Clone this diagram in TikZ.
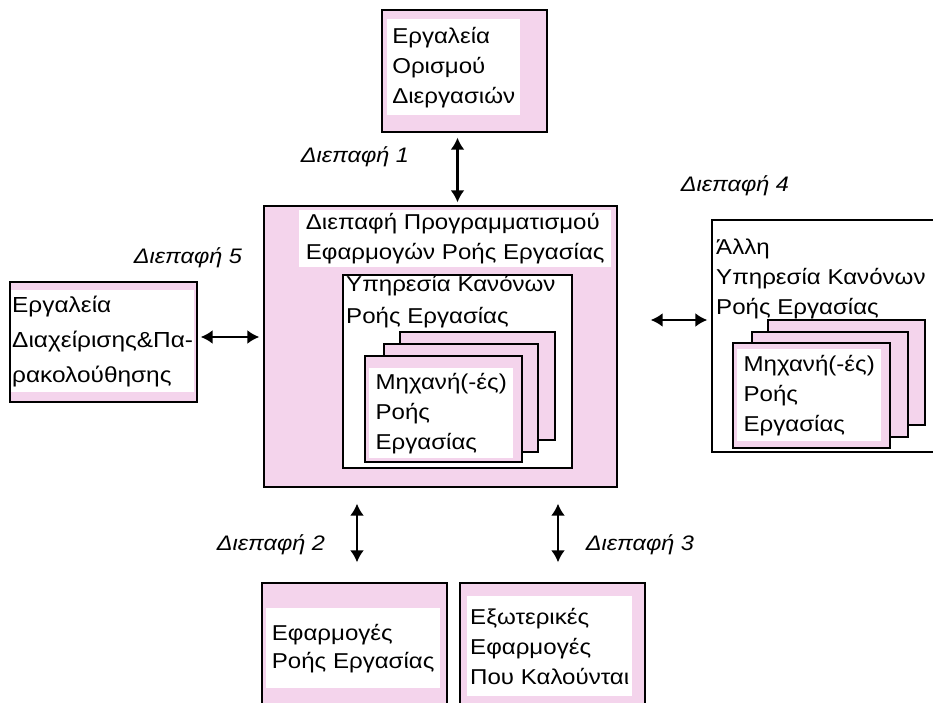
\documentclass[tikz,border=0pt]{standalone}
\usepackage{fontspec}
\setmainfont[FakeStretch=1.12]{Liberation Sans}
\usepackage{xcolor}
\usepackage{tikz}
\usetikzlibrary{arrows.meta, positioning, calc}
\definecolor{framepink}{RGB}{244,212,236}

\begin{document}
\begin{tikzpicture}[
  x=1pt, y=-1pt,
  font=\fontsize{21.5}{30}\selectfont,
  frame/.style={rectangle, draw, line width=1.4pt, fill=framepink, inner sep=0pt},
  plain/.style={rectangle, draw, line width=1.4pt, fill=white, inner sep=0pt},
  txt/.style={fill=white, anchor=north west, align=left, inner sep=3pt},
  ifc/.style={font=\fontsize{21}{24}\itshape},
  arrow/.style={{Latex[length=12pt,width=14pt]}-{Latex[length=12pt,width=14pt]}, line width=2.2pt}
]
\useasboundingbox (0,0) rectangle (933,703);
\clip (0,0) rectangle (933,703);
% top: process definition tools
\node[frame, minimum width=165, minimum height=122] (defbox) at (464.5,71) {};
\node[txt, minimum width=133, minimum height=96] (deftext) at (387,19) {Εργαλεία\\Ορισμού\\Διεργασιών};
% central engine box
\node[frame, minimum width=353, minimum height=281] (mainbox) at (440.5,346.5) {};
\node[txt, minimum width=312] (maintext) at (299,210) {Διεπαφή Προγραμματισμού\\Εφαρμογών Ροής Εργασίας};
\node[plain, minimum width=229, minimum height=193] (rulebox) at (457.5,371.5) {};
\node[txt, fill=none, font=\fontsize{21.5}{32}\selectfont] (ruletext) at (343,272) {Υπηρεσία Κανόνων\\Ροής Εργασίας};
\node[frame, minimum width=155, minimum height=108] (cardC) at (477.5,386) {};
\node[frame, minimum width=154, minimum height=108] (cardB) at (461,398) {};
\node[frame, minimum width=157, minimum height=106] (cardA) at (443.5,409) {};
\node[txt, minimum width=144, minimum height=90] (cardtext) at (369,368) {Μηχανή(-ές)\\Ροής\\Εργασίας};
% left: administration and monitoring tools
\node[frame, minimum width=187, minimum height=120] (mgmtbox) at (103.5,342) {};
\node[txt, inner xsep=1pt, minimum width=182, minimum height=102, font=\fontsize{21.8}{35}\selectfont] (mgmttext) at (11,290) {Εργαλεία\\Διαχείρισης\&Πα-\\ρακολούθησης};
% right: other workflow enactment service
\node[plain, minimum width=250, minimum height=232] (otherbox) at (837,336) {};
\node[txt, fill=none] (othertext) at (713,236) {Άλλη\\Υπηρεσία Κανόνων\\Ροής Εργασίας};
\node[frame, minimum width=157, minimum height=105] (ocardC) at (846.5,372.5) {};
\node[frame, minimum width=156, minimum height=105] (ocardB) at (830,384.5) {};
\node[frame, minimum width=157, minimum height=105] (ocardA) at (811.5,395.5) {};
\node[txt, minimum width=144, minimum height=92] (ocardtext) at (737,349) {Μηχανή(-ές)\\Ροής\\Εργασίας};
% bottom: client and invoked applications
\node[frame, minimum width=185, minimum height=140] (wfapps) at (354.5,653) {};
\node[txt, minimum width=174, minimum height=80, font=\fontsize{21.5}{28}\selectfont] (wfappstext) at (266,608) {Εφαρμογές\\Ροής Εργασίας};
\node[frame, minimum width=185, minimum height=140] (extapps) at (552.5,653) {};
\node[txt, minimum width=165, minimum height=100] (extappstext) at (467,596) {Εξωτερικές\\Εφαρμογές\\Που Καλούνται};
% interfaces
\draw[arrow, shorten <=5pt, shorten >=3pt] ([xshift=-7]defbox.south) -- ([xshift=-7]defbox.south |- mainbox.north);
\node[ifc] (if1) at (355,157) {Διεπαφή 1};
\draw[arrow, shorten <=3pt, shorten >=4pt] ([yshift=5]mgmtbox.east) -- ([yshift=5]mgmtbox.east -| mainbox.west);
\node[ifc] (if5) at (188,258) {Διεπαφή 5};
\draw[arrow, shorten <=33pt, shorten >=4pt] ([yshift=16]otherbox.west -| mainbox.east) -- ([yshift=16]otherbox.west);
\node[ifc] (if4) at (735,186) {Διεπαφή 4};
\draw[arrow, shorten <=16pt, shorten >=20pt] ([xshift=2.5]wfapps.north |- mainbox.south) -- ([xshift=2.5]wfapps.north);
\node[ifc] (if2) at (271,545) {Διεπαφή 2};
\draw[arrow, shorten <=16pt, shorten >=20pt] ([xshift=5.5]extapps.north |- mainbox.south) -- ([xshift=5.5]extapps.north);
\node[ifc] (if3) at (640,545) {Διεπαφή 3};
\end{tikzpicture}
\end{document}
